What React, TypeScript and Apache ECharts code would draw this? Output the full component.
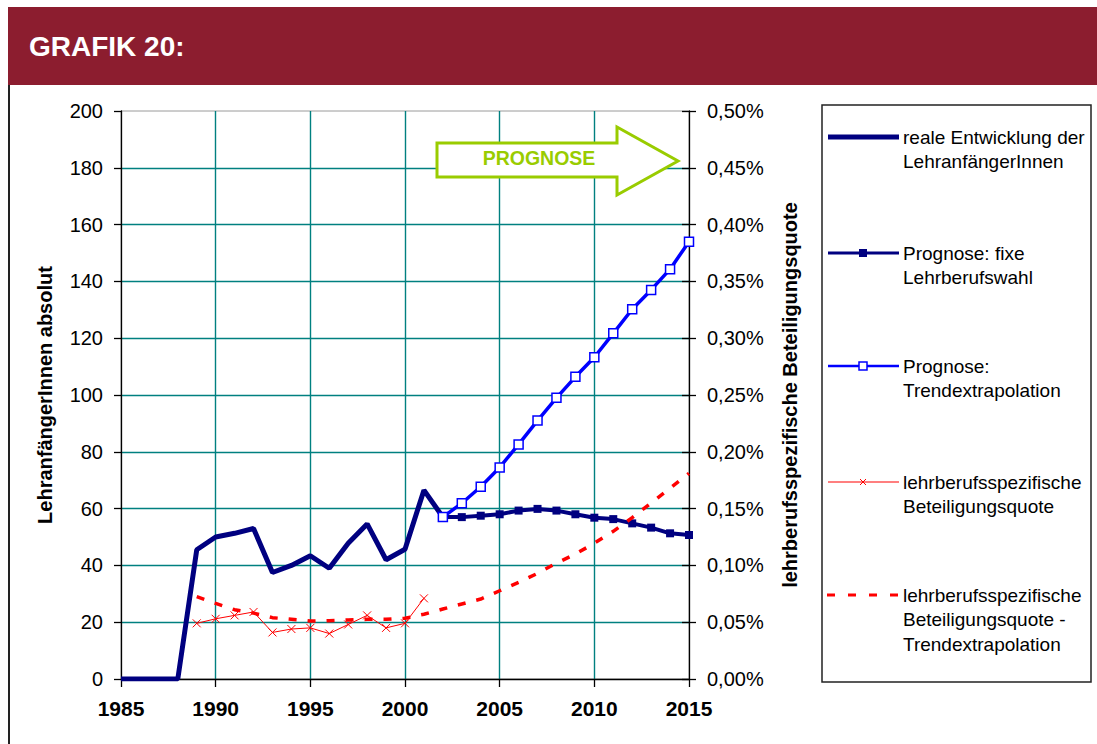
import React, { useEffect, useRef } from 'react';
import * as echarts from 'echarts';

const FONT = '"Liberation Sans", Arial, Helvetica, sans-serif';

// ---- data ----
const realYears = [1985, 1986, 1987, 1988, 1989, 1990, 1991, 1992, 1993, 1994, 1995, 1996, 1997, 1998, 1999, 2000, 2001, 2002];
const realValues = [0, 0, 0, 0, 45.5, 50, 51.3, 53, 37.5, 40, 43.4, 39, 47.8, 54.6, 42, 45.7, 66.5, 57];

const progYears = [2002, 2003, 2004, 2005, 2006, 2007, 2008, 2009, 2010, 2011, 2012, 2013, 2014, 2015];
const fixedValues = [57, 57, 57.5, 58, 59.3, 59.9, 59.3, 58, 56.8, 56.3, 54.8, 53.3, 51.3, 50.7];
const trendValues = [57, 61.9, 67.7, 74.5, 82.6, 91, 99, 106.4, 113.3, 121.7, 130.2, 137, 144.3, 154];

const quoteYears = [1989, 1990, 1991, 1992, 1993, 1994, 1995, 1996, 1997, 1998, 1999, 2000, 2001];
const quoteValues = [0.049, 0.053, 0.056, 0.059, 0.041, 0.044, 0.045, 0.040, 0.048, 0.056, 0.045, 0.049, 0.071];

const quoteTrendYears = [1989, 1990, 1991, 1992, 1993, 1994, 1995, 1996, 1997, 1998, 1999, 2000, 2001, 2002, 2003, 2004, 2005, 2006, 2007, 2008, 2009, 2010, 2011, 2012, 2013, 2014, 2015];
const quoteTrendValues = [0.0725, 0.0666, 0.061, 0.058, 0.054, 0.0525, 0.051, 0.0513, 0.052, 0.0525, 0.0525, 0.0535, 0.057, 0.0616, 0.066, 0.0704, 0.0777, 0.085, 0.093, 0.102, 0.11, 0.1195, 0.13, 0.142, 0.155, 0.168, 0.181];

const seriesNames = [
  'reale Entwicklung der LehranfängerInnen',
  'Prognose: fixe Lehrberufswahl',
  'Prognose: Trendextrapolation',
  'lehrberufsspezifische Beteiligungsquote',
  'lehrberufsspezifische Beteiligungsquote - Trendextrapolation',
];
const legendLines = [
  ['reale Entwicklung der', 'LehranfängerInnen'],
  ['Prognose: fixe', 'Lehrberufswahl'],
  ['Prognose:', 'Trendextrapolation'],
  ['lehrberufsspezifische', 'Beteiligungsquote'],
  ['lehrberufsspezifische', 'Beteiligungsquote -', 'Trendextrapolation'],
];

const titleText = 'GRAFIK 20:';
const prognoseText = 'PROGNOSE';
const leftAxisName = 'LehranfängerInnen absolut';
const rightAxisName = 'lehrberufsspezifische Beteiligungsquote';

const pairs = (xs: number[], ys: number[]) => xs.map((x, i) => [x, ys[i]]);

const NAVY = '#000080';
const BLUE = '#0000FF';
const RED = '#FF0000';
const TEAL = '#008080';
const GREEN = '#99CC00';

function buildLegend() {
  const els: any[] = [];
  els.push({
    type: 'rect', z: 20,
    shape: { x: 822, y: 105, width: 269, height: 577 },
    style: { fill: '#fff', stroke: '#222', lineWidth: 1.5 },
  });
  const ys = [137, 253, 366, 482, 595];
  const x1 = 828, x2 = 899, cx = 863;
  ys.forEach((y, i) => {
    if (i === 0) {
      els.push({ type: 'line', z: 21, shape: { x1, y1: y, x2, y2: y }, style: { stroke: NAVY, lineWidth: 5 } });
    } else if (i === 1) {
      els.push({ type: 'line', z: 21, shape: { x1, y1: y, x2, y2: y }, style: { stroke: NAVY, lineWidth: 3 } });
      els.push({ type: 'rect', z: 22, shape: { x: cx - 4, y: y - 4, width: 8, height: 8 }, style: { fill: NAVY } });
    } else if (i === 2) {
      els.push({ type: 'line', z: 21, shape: { x1, y1: y, x2, y2: y }, style: { stroke: BLUE, lineWidth: 2.5 } });
      els.push({ type: 'rect', z: 22, shape: { x: cx - 4, y: y - 4, width: 8, height: 8 }, style: { fill: '#fff', stroke: BLUE, lineWidth: 1.5 } });
    } else if (i === 3) {
      els.push({ type: 'line', z: 21, shape: { x1, y1: y, x2, y2: y }, style: { stroke: RED, lineWidth: 1.2 } });
      els.push({ type: 'line', z: 22, shape: { x1: cx - 3, y1: y - 3, x2: cx + 3, y2: y + 3 }, style: { stroke: RED, lineWidth: 1 } });
      els.push({ type: 'line', z: 22, shape: { x1: cx - 3, y1: y + 3, x2: cx + 3, y2: y - 3 }, style: { stroke: RED, lineWidth: 1 } });
    } else {
      els.push({ type: 'line', z: 21, shape: { x1: 827, y1: y, x2, y2: y }, style: { stroke: RED, lineWidth: 3, lineDash: [8, 13] } });
    }
    legendLines[i].forEach((t, j) => {
      els.push({
        type: 'text', z: 21, x: 903, y: y + j * 24.8,
        style: { text: t, fill: '#000', font: `19px ${FONT}`, verticalAlign: 'middle', align: 'left' },
      });
    });
  });
  return els;
}

export default function App() {
  const ref = useRef<HTMLDivElement>(null);
  useEffect(() => {
    if (!ref.current) return;
    const chart = echarts.init(ref.current, undefined, { renderer: 'svg' });
    const option: any = {
      animation: false,
      backgroundColor: '#fff',
      textStyle: { fontFamily: FONT },
      grid: {
        left: 121, right: 408, top: 111, bottom: 65,
        show: true, borderColor: '#9a9a9a', borderWidth: 1, backgroundColor: 'transparent',
      },
      xAxis: {
        type: 'value', min: 1985, max: 2015, interval: 5,
        axisLine: { show: true, lineStyle: { color: '#000', width: 1.3 } },
        axisTick: { show: true, length: 8, lineStyle: { color: '#000', width: 1.3 } },
        axisLabel: { formatter: (v: number) => String(v), color: '#000', fontSize: 21, fontWeight: 'bold', margin: 19, fontFamily: FONT },
        splitLine: { show: true, showMinLine: false, showMaxLine: false, lineStyle: { color: TEAL, width: 1.4 } },
      },
      yAxis: [
        {
          type: 'value', min: 0, max: 200, interval: 20, position: 'left',
          name: leftAxisName, nameLocation: 'middle', nameRotate: 90, nameGap: 66,
          nameTextStyle: { fontSize: 20, fontWeight: 'bold', color: '#000', fontFamily: FONT },
          axisLine: { show: true, lineStyle: { color: '#000', width: 1.3 } },
          axisTick: { show: true, length: 7, lineStyle: { color: '#000', width: 1.3 } },
          axisLabel: { color: '#000', fontSize: 20, margin: 18, fontFamily: FONT },
          splitLine: { show: true, showMinLine: false, showMaxLine: false, lineStyle: { color: TEAL, width: 1.4 } },
        },
        {
          type: 'value', min: 0, max: 0.5, interval: 0.05, position: 'right',
          name: rightAxisName, nameLocation: 'middle', nameRotate: 90, nameGap: 91,
          nameTextStyle: { fontSize: 20, fontWeight: 'bold', color: '#000', fontFamily: FONT },
          axisLine: { show: true, lineStyle: { color: '#000', width: 1.3 } },
          axisTick: { show: true, length: 7, lineStyle: { color: '#000', width: 1.3 } },
          axisLabel: {
            color: '#000', fontSize: 20, margin: 18, fontFamily: FONT,
            formatter: (v: number) => v.toFixed(2).replace('.', ',') + '%',
          },
          splitLine: { show: false },
        },
        {
          type: 'value', min: 0, max: 0.5, interval: 0.05, position: 'right',
          axisLine: { show: false },
          axisTick: { show: true, inside: true, length: 7, lineStyle: { color: '#000', width: 1.3 } },
          axisLabel: { show: false },
          splitLine: { show: false },
        },
      ],
      series: [
        {
          name: seriesNames[0], type: 'line', yAxisIndex: 0, data: pairs(realYears, realValues),
          showSymbol: false, symbol: 'none', lineStyle: { color: NAVY, width: 5 }, itemStyle: { color: NAVY }, z: 3,
        },
        {
          name: seriesNames[1], type: 'line', yAxisIndex: 0, data: pairs(progYears, fixedValues),
          symbol: 'rect', symbolSize: 8, lineStyle: { color: NAVY, width: 4 }, itemStyle: { color: NAVY }, z: 4,
        },
        {
          name: seriesNames[2], type: 'line', yAxisIndex: 0, data: pairs(progYears, trendValues),
          symbol: 'rect', symbolSize: 9, lineStyle: { color: BLUE, width: 3.5 },
          itemStyle: { color: '#fff', borderColor: BLUE, borderWidth: 1.5 }, z: 5,
        },
        {
          name: seriesNames[3], type: 'line', yAxisIndex: 1, data: pairs(quoteYears, quoteValues),
          symbol: 'path://M0,0L10,10M10,0L0,10', symbolSize: 8,
          lineStyle: { color: RED, width: 1 },
          itemStyle: { color: RED, borderColor: RED, borderWidth: 1 }, z: 6,
        },
        {
          name: seriesNames[4], type: 'line', yAxisIndex: 1, data: pairs(quoteTrendYears, quoteTrendValues),
          symbol: 'none', showSymbol: false,
          lineStyle: { color: RED, width: 3.5, type: [8, 11] }, itemStyle: { color: RED }, z: 7,
        },
      ],
      graphic: [
        { type: 'rect', z: 30, shape: { x: 8, y: 7, width: 1089, height: 78 }, style: { fill: '#8C1D2F' } },
        {
          type: 'text', z: 31, x: 29, y: 46,
          style: { text: titleText, fill: '#fff', font: `bold 28px ${FONT}`, verticalAlign: 'middle', align: 'left' },
        },
        { type: 'line', z: 30, shape: { x1: 9, y1: 85, x2: 9, y2: 744 }, style: { stroke: '#222', lineWidth: 2 } },
        {
          type: 'polygon', z: 15,
          shape: { points: [[437, 143], [617, 143], [617, 127], [678, 161], [617, 195], [617, 177], [437, 177]] },
          style: { fill: '#fff', stroke: GREEN, lineWidth: 3 },
        },
        {
          type: 'text', z: 16, x: 539, y: 158,
          style: { text: prognoseText, fill: GREEN, font: `bold 19.5px ${FONT}`, align: 'center', verticalAlign: 'middle' },
        },
        ...buildLegend(),
      ],
    };
    chart.setOption(option);
    return () => chart.dispose();
  }, []);
  return <div ref={ref} style={{ position: 'fixed', left: 0, top: 0, width: 1097, height: 744 }} />;
}
